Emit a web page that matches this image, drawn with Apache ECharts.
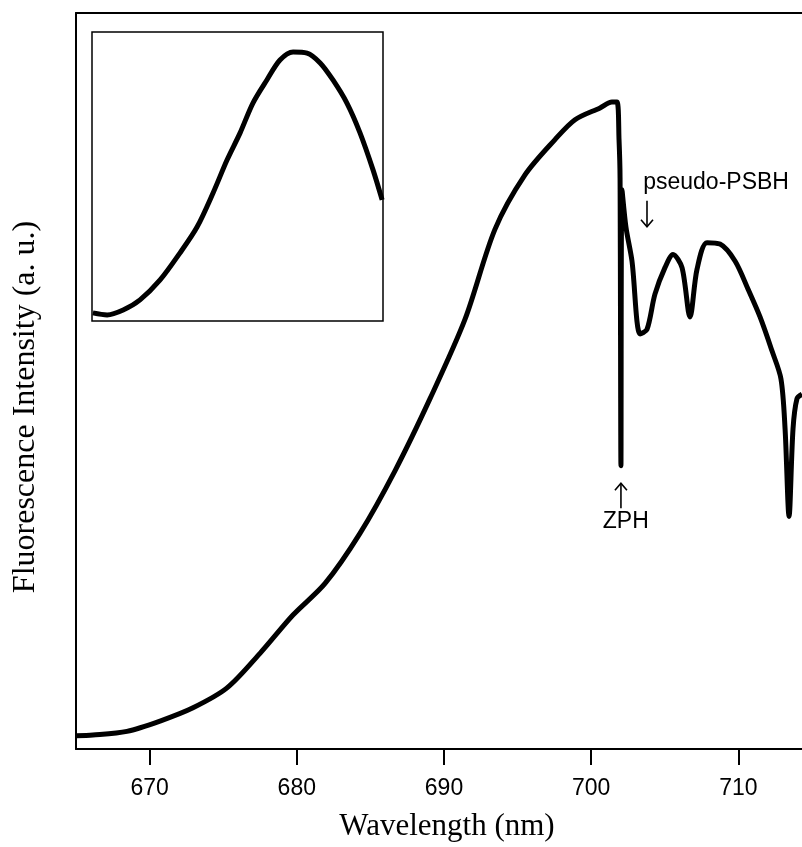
<!DOCTYPE html>
<html>
<head>
<meta charset="utf-8">
<script src="https://cdn.jsdelivr.net/npm/echarts@6/dist/echarts.min.js"></script>
<style>
  html, body { margin: 0; padding: 0; background: #fff; }
  #chart { width: 802px; height: 847px; }
</style>
</head>
<body>
<div id="chart"></div>
<script>
// main spectrum, wavelength (nm) vs intensity (a.u., 0-100)
var wavelength = [665.0, 666.15, 668.46, 670.71, 672.95, 675.26, 677.5, 679.74, 681.92, 684.29,
  686.67, 689.05, 691.43, 693.46, 695.5, 697.54, 698.9, 700.6, 701.41, 701.75,
  701.89, 701.96, 702.02, 702.09, 702.36, 702.77, 703.32, 703.79, 704.33, 705.01,
  705.56, 706.17, 706.71, 707.19, 707.87, 708.75, 709.77, 710.65, 711.47, 712.28,
  712.89, 713.17, 713.44, 713.71, 713.98, 714.32];
var intensity = [1.8, 1.9, 2.4, 3.8, 5.6, 8.3, 13.0, 18.2, 22.5, 29.3,
  37.8, 47.6, 58.4, 70.6, 78.0, 82.8, 85.5, 87.1, 87.9, 87.9,
  82.8, 77.6, 38.5, 76.0, 70.9, 66.3, 56.4, 57.0, 61.8, 65.4,
  67.2, 65.4, 58.7, 65.2, 68.8, 68.6, 66.3, 62.5, 58.7, 54.1,
  50.3, 43.5, 31.6, 43.5, 47.6, 48.2];

// inset spectrum (no axis scale shown, normalised 0-100)
var insetX = [0.3, 5.2, 10.7, 16.5, 23.4, 30.2, 36.1, 41.6, 46.4, 50.9,
  55.3, 60.1, 64.6, 69.1, 73.9, 78.4, 82.8, 87.6, 92.1, 96.6, 99.7];
var insetY = [2.8, 2.1, 3.8, 7.3, 14.2, 23.5, 32.5, 44.3, 55.7, 65.1,
  75.4, 83.4, 90.3, 93.1, 92.7, 89.3, 83.4, 75.4, 65.1, 52.2, 41.9];

var xTicks = [670, 680, 690, 700, 710];
var xMin = 665.0, xMax = 714.32;

function pairs(xs, ys) {
  var out = [];
  for (var i = 0; i < xs.length; i++) out.push([xs[i], ys[i]]);
  return out;
}

var chart = echarts.init(document.getElementById('chart'));
var option = {
  animation: false,
  backgroundColor: '#fff',
  grid: [
    // frame is cut off at the right edge of the picture
    { left: 76, top: 13, right: 0, height: 738 },
    { left: 92, top: 32, width: 291, height: 289, show: true, borderColor: '#000', borderWidth: 1.5 }
  ],
  xAxis: [
    {
      type: 'value', gridIndex: 0, min: xMin, max: xMax,
      name: 'Wavelength (nm)', nameLocation: 'middle', nameGap: 62,
      nameTextStyle: { fontFamily: 'Liberation Serif', fontSize: 31, color: '#000', padding: [0, 0, 0, 16] },
      axisLine: { show: true, onZero: false, lineStyle: { color: '#000', width: 2 } },
      axisTick: { show: true, length: 16, lineStyle: { color: '#000', width: 2 },
        customValues: xTicks },
      axisLabel: { margin: 28, fontFamily: 'Liberation Sans', fontSize: 23, color: '#000',
        customValues: xTicks },
      splitLine: { show: false }
    },
    {
      type: 'value', gridIndex: 0, position: 'top', min: xMin, max: xMax,
      axisLine: { show: true, onZero: false, lineStyle: { color: '#000', width: 2 } },
      axisTick: { show: false }, axisLabel: { show: false }, splitLine: { show: false }
    },
    {
      type: 'value', gridIndex: 1, min: 0, max: 100,
      axisLine: { show: false }, axisTick: { show: false }, axisLabel: { show: false }, splitLine: { show: false }
    }
  ],
  yAxis: [
    {
      type: 'value', gridIndex: 0, min: 0, max: 100,
      name: 'Fluorescence Intensity (a. u.)', nameLocation: 'middle', nameGap: 34, nameRotate: 90,
      nameTextStyle: { fontFamily: 'Liberation Serif', fontSize: 32, color: '#000', padding: [0, 52, 0, 0] },
      axisLine: { show: true, onZero: false, lineStyle: { color: '#000', width: 2 } },
      axisTick: { show: false }, axisLabel: { show: false }, splitLine: { show: false }
    },
    {
      type: 'value', gridIndex: 1, min: 0, max: 100,
      axisLine: { show: false }, axisTick: { show: false }, axisLabel: { show: false }, splitLine: { show: false }
    }
  ],
  series: [
    {
      type: 'line', xAxisIndex: 0, yAxisIndex: 0,
      data: pairs(wavelength, intensity),
      showSymbol: false, smooth: 0.3,
      lineStyle: { color: '#000', width: 5 }
    },
    {
      type: 'line', xAxisIndex: 2, yAxisIndex: 1,
      data: pairs(insetX, insetY),
      showSymbol: false, smooth: 0.3,
      lineStyle: { color: '#000', width: 5 }
    }
  ]
};
chart.setOption(option);

// annotations, anchored to data coordinates
function px(x, y) {
  return chart.convertToPixel({ gridIndex: 0 }, [x, y]);
}
function arrow(p, dir, len) {
  // dir: 1 = pointing down, -1 = pointing up
  var tipY = dir > 0 ? p[1] + len : p[1];
  var tailY = dir > 0 ? p[1] : p[1] + len;
  return [
    { type: 'line', shape: { x1: p[0], y1: tailY, x2: p[0], y2: tipY },
      style: { stroke: '#000', lineWidth: 1.6 } },
    { type: 'polyline', shape: { points: [[p[0] - 6, tipY - dir * 7], [p[0], tipY], [p[0] + 6, tipY - dir * 7]] },
      style: { stroke: '#000', lineWidth: 1.6, fill: null } }
  ];
}
var zphArrowTop = px(702.02, 36.1);
var psbText = px(703.53, 76.9);
var psbArrowTop = px(703.79, 74.5);
var zphText = px(702.35, 30.9);

var els = [];
els = els.concat(arrow([zphArrowTop[0], zphArrowTop[1]], -1, 25));
els = els.concat(arrow([psbArrowTop[0], psbArrowTop[1]], 1, 26));
els.push({ type: 'text', x: psbText[0], y: psbText[1],
  style: { text: 'pseudo-PSBH', fontFamily: 'Liberation Sans', fontSize: 23, fill: '#000',
    align: 'left', verticalAlign: 'middle' } });
els.push({ type: 'text', x: zphText[0], y: zphText[1],
  style: { text: 'ZPH', fontFamily: 'Liberation Sans', fontSize: 23, fill: '#000',
    align: 'center', verticalAlign: 'middle' } });
chart.setOption({ graphic: els });
</script>
</body>
</html>
